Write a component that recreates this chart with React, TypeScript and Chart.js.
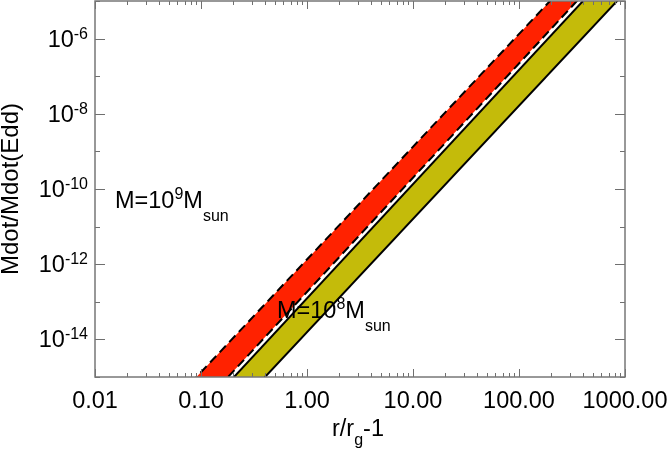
import { useEffect, useRef } from 'react';
import { Chart, registerables } from 'chart.js';

Chart.register(...registerables);

// r/r_g - 1 at the two ends of the x axis
const radius = [0.01, 1000];
// Mdot/Mdot(Edd) of each band edge at those radii (straight lines in log-log)
const redUpper = [1.35e-18, 1.32e-3];
const redLower = [1.54e-19, 2.38e-4];
const oliveUpper = [1.04e-19, 1.6e-4];
const oliveLower = [1.48e-20, 1.68e-5];

const xTickValues = [0.01, 0.1, 1, 10, 100, 1000];
const xTickLabels = ['0.01', '0.10', '1.00', '10.00', '100.00', '1000.00'];
const yTickExponents = [-14, -12, -10, -8, -6];

const FONT = '"Liberation Sans", Arial, Helvetica, sans-serif';

type Part = { t: string; size: number; dy: number };

function partsWidth(ctx: CanvasRenderingContext2D, parts: Part[]) {
  let w = 0;
  for (const p of parts) {
    ctx.font = `${p.size}px ${FONT}`;
    w += ctx.measureText(p.t).width;
  }
  return w;
}

function drawParts(ctx: CanvasRenderingContext2D, x: number, y: number, parts: Part[], align: 'left' | 'right' | 'center') {
  const w = partsWidth(ctx, parts);
  let cx = align === 'left' ? x : align === 'right' ? x - w : x - w / 2;
  ctx.textAlign = 'left';
  ctx.textBaseline = 'alphabetic';
  for (const p of parts) {
    ctx.font = `${p.size}px ${FONT}`;
    ctx.fillText(p.t, cx, y + p.dy);
    cx += ctx.measureText(p.t).width;
  }
}

const framePlugin = {
  id: 'idlFrame',
  afterDatasetsDraw(chart: any) {
    const { ctx, chartArea } = chart;
    const { left, right, top, bottom } = chartArea;
    const xs = chart.scales.x;
    const ys = chart.scales.y;
    ctx.save();
    ctx.strokeStyle = '#6f6f6f';
    ctx.lineWidth = 1;
    // x ticks (bottom and top, pointing inward)
    for (let d = -2; d <= 3; d++) {
      for (let k = 1; k <= 9; k++) {
        const v = k * Math.pow(10, d);
        if (v > 1000 * 1.0001) break;
        const px = Math.round(xs.getPixelForValue(v)) + 0.5;
        const len = k === 1 ? 8 : 4;
        ctx.beginPath();
        ctx.moveTo(px, bottom);
        ctx.lineTo(px, bottom - len);
        ctx.moveTo(px, top);
        ctx.lineTo(px, top + len);
        ctx.stroke();
      }
    }
    // y ticks (left and right)
    for (let e = -15; e <= -5; e++) {
      const py = Math.round(ys.getPixelForValue(Math.pow(10, e))) + 0.5;
      const len = e % 2 === 0 ? 10 : 5;
      ctx.beginPath();
      ctx.moveTo(left, py);
      ctx.lineTo(left + len, py);
      ctx.moveTo(right, py);
      ctx.lineTo(right - len, py);
      ctx.stroke();
    }
    ctx.lineWidth = 1.5;
    ctx.strokeStyle = '#777777';
    ctx.strokeRect(left, top, right - left, bottom - top);

    ctx.fillStyle = '#000';
    const M = 23.5;
    const S = 16;
    // x tick labels
    xTickValues.forEach((v, i) => {
      const px = xs.getPixelForValue(v);
      drawParts(ctx, px, 408, [{ t: xTickLabels[i], size: M, dy: 0 }], 'center');
    });
    // y tick labels
    yTickExponents.forEach((e) => {
      const py = ys.getPixelForValue(Math.pow(10, e));
      drawParts(ctx, left - 7, py + 8, [
        { t: '10', size: M, dy: 0 },
        { t: String(e), size: S, dy: -8 },
      ], 'right');
    });
    // x title
    drawParts(ctx, (left + right) / 2 - 2, 436, [
      { t: 'r/r', size: M, dy: 0 },
      { t: 'g', size: S, dy: 9 },
      { t: '-1', size: M, dy: 0 },
    ], 'center');
    // y title
    ctx.save();
    ctx.translate(18, (top + bottom) / 2);
    ctx.rotate(-Math.PI / 2);
    drawParts(ctx, 0, 0, [{ t: 'Mdot/Mdot(Edd)', size: 24, dy: 0 }], 'center');
    ctx.restore();
    // annotations
    drawParts(ctx, left + 20, 208, [
      { t: 'M=10', size: M, dy: 0 },
      { t: '9', size: S, dy: -9 },
      { t: 'M', size: M, dy: 0 },
      { t: 'sun', size: S, dy: 13 },
    ], 'left');
    drawParts(ctx, left + 182, 318, [
      { t: 'M=10', size: M, dy: 0 },
      { t: '8', size: S, dy: -9 },
      { t: 'M', size: M, dy: 0 },
      { t: 'sun', size: S, dy: 13 },
    ], 'left');
    ctx.restore();
  },
};

function pts(vals: number[]) {
  return radius.map((r, i) => ({ x: r, y: vals[i] }));
}

export default function App() {
  const ref = useRef<HTMLCanvasElement>(null);
  useEffect(() => {
    if (!ref.current) return;
    const common = { pointRadius: 0, tension: 0, borderColor: '#000', borderWidth: 2, clip: 0 };
    const chart = new Chart(ref.current, {
      type: 'line',
      data: {
        datasets: [
          { ...common, data: pts(redUpper), borderDash: [9, 5], fill: '+1', backgroundColor: '#FF2200' },
          { ...common, data: pts(redLower), borderDash: [9, 5], fill: false },
          { ...common, data: pts(oliveUpper), fill: '+1', backgroundColor: '#C4BB0A' },
          { ...common, data: pts(oliveLower), fill: false },
        ] as any,
      },
      options: {
        responsive: false,
        maintainAspectRatio: false,
        animation: false,
        devicePixelRatio: 1,
        layout: { padding: { left: 95, right: 45, top: 1, bottom: 75 } },
        plugins: {
          legend: { display: false },
          tooltip: { enabled: false },
          filler: { drawTime: 'beforeDatasetsDraw' },
        } as any,
        scales: {
          x: { type: 'logarithmic', min: 0.01, max: 1000, display: false, bounds: 'data' },
          y: { type: 'logarithmic', min: 1e-15, max: 1e-5, display: false, bounds: 'data' },
        },
      },
      plugins: [framePlugin],
    });
    return () => chart.destroy();
  }, []);
  return (
    <div style={{ position: 'fixed', left: 0, top: 0, width: 670, height: 452, background: '#fff' }}>
      <canvas ref={ref} width={670} height={452} style={{ display: 'block' }} />
    </div>
  );
}
